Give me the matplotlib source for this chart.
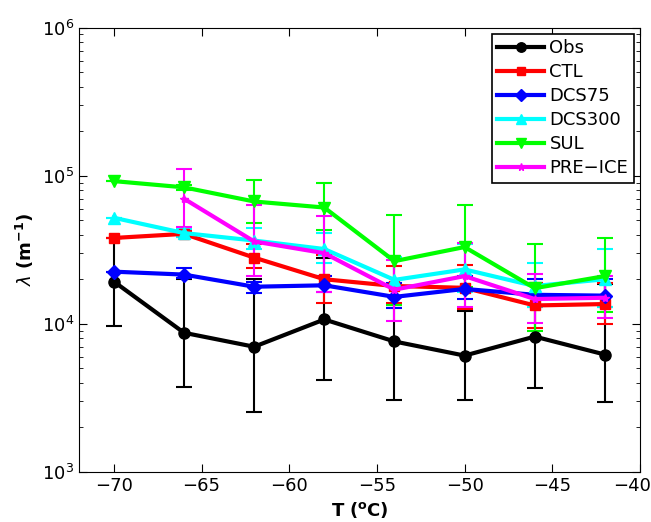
import numpy as np
import matplotlib
matplotlib.use("Agg")
import matplotlib.pyplot as plt
import matplotlib.transforms as mtransforms
from matplotlib.lines import Line2D

T = [-70, -66, -62, -58, -54, -50, -46, -42]

obs = [19300, 8700, 7000, 10700, 7600, 6100, 8200, 6200]
obs_lo = [9700, 3770, 2550, 4200, 3050, 3050, 3700, 2950]
obs_hi = [38000, 20000, 20000, 27800, 13500, 12300, 18800, 18500]

ctl = [38000, 40500, 28000, 20000, 18000, 17500, 13300, 13600]
ctl_lo = [38000, 38500, 23700, 13800, 13800, 12600, 9400, 10000]
ctl_hi = [38000, 42500, 34700, 29200, 24400, 24800, 18800, 18800]

dcs75 = [22500, 21500, 17800, 18200, 15200, 17200, 15700, 15500]
dcs75_lo = [22500, 20300, 16100, 16500, 12800, 14700, 13000, 13000]
dcs75_hi = [22500, 23800, 19300, 20900, 19000, 21100, 20200, 20000]

dcs300 = [52000, 41000, 36500, 32000, 19800, 23300, 18000, 20000]
dcs300_lo = [52000, 38500, 32000, 25900, 13400, 16500, 13000, 13000]
dcs300_hi = [52000, 43500, 44100, 41000, 28200, 34500, 25900, 32100]

sul = [92000, 83500, 67000, 61000, 26500, 33000, 17400, 21000]
sul_lo = [92000, 80000, 48300, 43200, 13300, 17700, 9000, 12100]
sul_hi = [92000, 87000, 94000, 89300, 54400, 63000, 34800, 37900]

T_pre = [-66, -62, -58, -54, -50, -46, -42]
pre = [70000, 36000, 30000, 17000, 21000, 14700, 15000]
pre_lo = [45400, 21100, 16400, 10500, 13000, 10200, 10900]
pre_hi = [111000, 63000, 53700, 27000, 35400, 21700, 21100]

xticks = [-70, -65, -60, -55, -50, -45, -40]

series = [
    ("Obs", T, obs, obs_lo, obs_hi, "black", "o", 8),
    ("CTL", T, ctl, ctl_lo, ctl_hi, "red", "s", 7),
    ("DCS75", T, dcs75, dcs75_lo, dcs75_hi, "blue", "D", 7),
    ("DCS300", T, dcs300, dcs300_lo, dcs300_hi, "cyan", "^", 9),
    ("SUL", T, sul, sul_lo, sul_hi, "lime", "v", 9),
    ("PRE\u2212ICE", T_pre, pre, pre_lo, pre_hi, "magenta", "*", 6),
]

fig = plt.figure(figsize=(6.51, 5.22), dpi=100)
ax = fig.add_axes([0.121, 0.096, 0.862, 0.851])

handles = []
for name, x, v, lo, hi, c, m, ms in series:
    v = np.array(v, float)
    err = np.vstack([v - np.array(lo, float), np.array(hi, float) - v])
    ax.errorbar(x, v, yerr=err, color=c, marker=m, markersize=ms, lw=3,
                elinewidth=1.5, capsize=6, capthick=1.5)
    handles.append(Line2D([], [], color=c, marker=m, markersize=ms * 0.85, lw=3, label=name))

ax.set_yscale("log")
ax.set_ylim(1e3, 1e6)
ax.set_xlim(-72, -40)
ax.set_xticks(xticks)
ax.set_xticklabels(["\u2212%d" % abs(t) for t in xticks])
ax.tick_params(which="both", direction="in", top=True, right=True, labelsize=13)
ax.tick_params(which="major", length=6)
ax.tick_params(which="minor", length=3)
ax.set_xlabel(r"$\mathbf{T\ (^oC)}$", fontsize=13)
ax.set_ylabel(r"$\lambda\ \mathbf{(m^{-1})}$", fontsize=13)

# shift last x tick label left so it fits inside the figure
lab = ax.get_xticklabels()[-1]
lab.set_transform(lab.get_transform() + mtransforms.ScaledTranslation(-8 / 100, 0, fig.dpi_scale_trans))

leg = ax.legend(handles=handles, loc="upper right", fontsize=13, fancybox=False,
                framealpha=1, edgecolor="black", handlelength=2.6, borderpad=0.3,
                labelspacing=0.33, handletextpad=0.3, borderaxespad=0.35)
leg.get_frame().set_linewidth(1.2)

fig.savefig("out.png", dpi=100)
